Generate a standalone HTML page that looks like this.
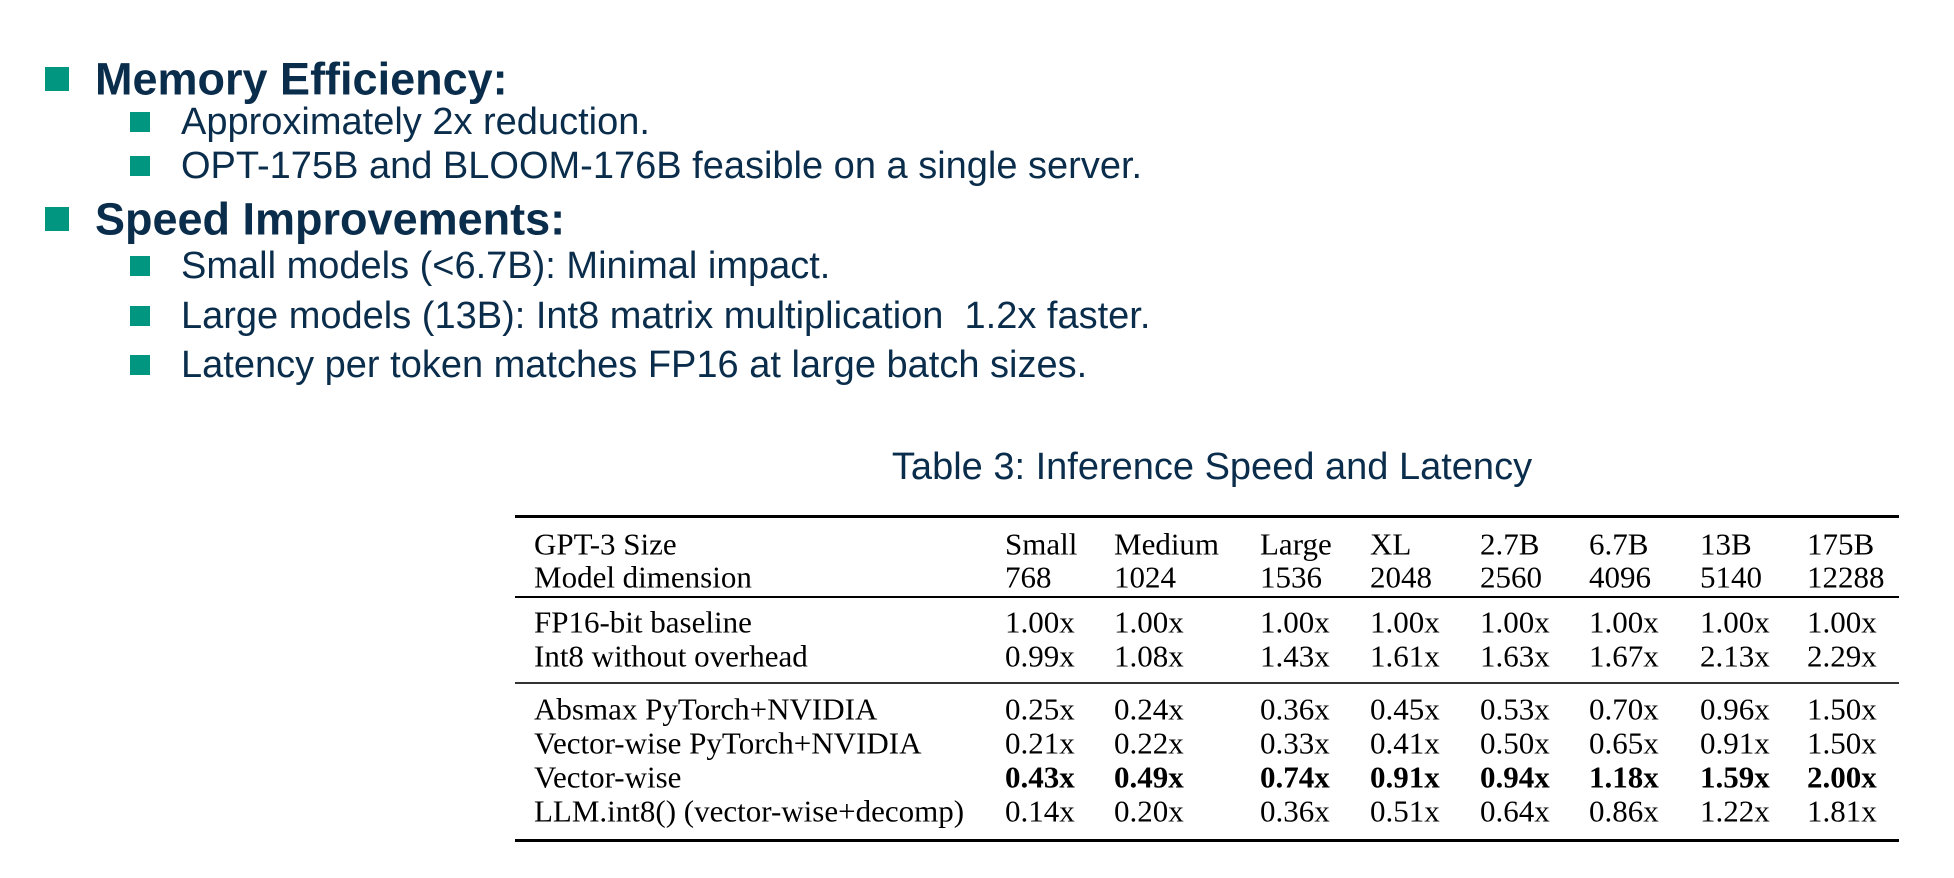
<!DOCTYPE html>
<html><head><meta charset="utf-8"><style>
body{margin:0;width:1954px;height:878px;background:#fff;position:relative;overflow:hidden;font-family:"Liberation Sans",sans-serif;color:#0b2d4c}
.sq{position:absolute;background:#00967f}
.t{position:absolute;white-space:nowrap;line-height:1;transform:translateY(-50%)}
.h1{font-weight:bold;font-size:45px}
.h2{font-size:38px}
.c{position:absolute;white-space:nowrap;font-family:"Liberation Serif",serif;font-size:31px;color:#000;line-height:1;transform:translateY(-50%)}
.rule{position:absolute;left:515px;width:1384px;background:#000}
</style></head><body>
<div class="sq" style="left:45px;top:67px;width:24px;height:24px"></div>
<div class="t h1" style="left:95px;top:79px">Memory Efficiency:</div>
<div class="sq" style="left:130px;top:112px;width:20px;height:20px"></div>
<div class="t h2" style="left:181px;top:122px">Approximately 2x reduction.</div>
<div class="sq" style="left:130px;top:156px;width:20px;height:20px"></div>
<div class="t h2" style="left:181px;top:166px">OPT-175B and BLOOM-176B feasible on a single server.</div>
<div class="sq" style="left:45px;top:207px;width:24px;height:24px"></div>
<div class="t h1" style="left:95px;top:219px">Speed Improvements:</div>
<div class="sq" style="left:130px;top:256px;width:20px;height:20px"></div>
<div class="t h2" style="left:181px;top:266px">Small models (&lt;6.7B): Minimal impact.</div>
<div class="sq" style="left:130px;top:306px;width:20px;height:20px"></div>
<div class="t h2" style="left:181px;top:316px">Large models (13B): Int8 matrix multiplication&nbsp; 1.2x faster.</div>
<div class="sq" style="left:130px;top:355px;width:20px;height:20px"></div>
<div class="t h2" style="left:181px;top:365px">Latency per token matches FP16 at large batch sizes.</div>
<div class="t" style="left:1212px;top:467px;font-size:38px;transform:translate(-50%,-50%)">Table 3: Inference Speed and Latency</div>
<div class="rule" style="top:515px;height:3px"></div>
<div class="rule" style="top:596px;height:2px"></div>
<div class="rule" style="top:682px;height:2px;background:#333"></div>
<div class="rule" style="top:839px;height:3px"></div>
<div id="tbl"></div>
<script>
const rowLabels=["GPT-3 Size","Model dimension","FP16-bit baseline","Int8 without overhead","Absmax PyTorch+NVIDIA","Vector-wise PyTorch+NVIDIA","Vector-wise","LLM.int8() (vector-wise+decomp)"];
const sizes=["Small","Medium","Large","XL","2.7B","6.7B","13B","175B"];
const dims=["768","1024","1536","2048","2560","4096","5140","12288"];
const fp16=["1.00x","1.00x","1.00x","1.00x","1.00x","1.00x","1.00x","1.00x"];
const int8=["0.99x","1.08x","1.43x","1.61x","1.63x","1.67x","2.13x","2.29x"];
const absmax=["0.25x","0.24x","0.36x","0.45x","0.53x","0.70x","0.96x","1.50x"];
const vwNv=["0.21x","0.22x","0.33x","0.41x","0.50x","0.65x","0.91x","1.50x"];
const vw=["0.43x","0.49x","0.74x","0.91x","0.94x","1.18x","1.59x","2.00x"];
const llm=["0.14x","0.20x","0.36x","0.51x","0.64x","0.86x","1.22x","1.81x"];
const rows=[sizes,dims,fp16,int8,absmax,vwNv,vw,llm];
const rowY=[544,577,622,656,709,743,777,811];
const colX=[1005,1114,1260,1370,1480,1589,1700,1807];
const tbl=document.getElementById('tbl');
rows.forEach((r,i)=>{
  const l=document.createElement('div');l.className='c';
  
  
  l.style.left='534px';l.style.top=rowY[i]+'px';l.textContent=rowLabels[i];tbl.appendChild(l);
  r.forEach((v,j)=>{
    const d=document.createElement('div');d.className='c';
    
    
    d.style.left=colX[j]+'px';d.style.top=rowY[i]+'px';d.textContent=v;
    if(i===6)d.style.fontWeight='bold';
    tbl.appendChild(d);
  });
});
</script>
</body></html>
